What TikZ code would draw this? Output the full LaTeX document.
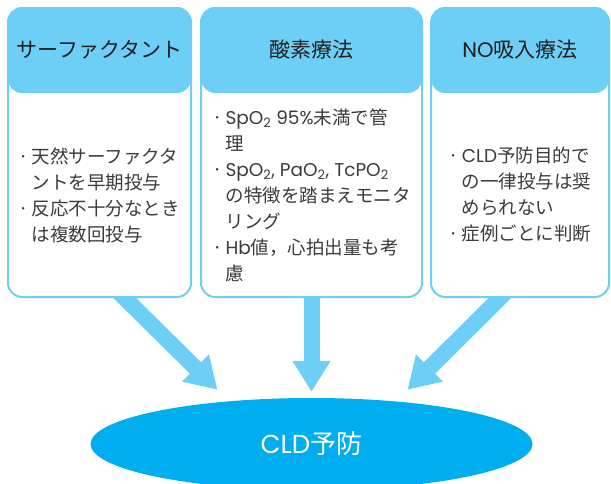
\documentclass[tikz,border=0pt]{standalone}
\usepackage{fontspec}
\setmainfont{Noto Sans CJK JP}
\newfontfamily\latinfont{Poppins}
\usetikzlibrary{arrows.meta, shapes.geometric, positioning, backgrounds}

\definecolor{sky}{HTML}{6DCFF6}
\definecolor{cyanblue}{HTML}{00AEEF}
\definecolor{ink}{HTML}{231F20}
\definecolor{bodyink}{HTML}{3E3A39}

% bullet, hanging indent and latin words for the panel texts
\newcommand{\itm}{\makebox[13pt][l]{·}}
\newcommand{\cont}{\hspace*{13pt}}
\newcommand{\lat}[1]{{\latinfont #1}}
\newcommand{\two}{\textsubscript{2}}

\tikzset{
  panel/.style={draw=sky, line width=2pt, fill=white, rounded corners=14pt,
    minimum height=289pt, inner sep=0pt,
    path picture={\fill[sky] (path picture bounding box.north west)
      rectangle ([yshift=-85pt]path picture bounding box.north east);}},
  title/.style={text=ink, font=\fontsize{21}{24}\selectfont},
  body/.style={text=bodyink, font=\fontsize{18.5}{26}\selectfont, align=left, inner sep=0pt},
  flow/.style={draw=sky, line width=16pt, -{Triangle[width=36pt, length=31pt]}},
  goal/.style={ellipse, fill=cyanblue, text=white, inner sep=0pt,
    minimum width=442pt, minimum height=92pt, font=\fontsize{26}{30}\selectfont}
}

\begin{document}
\begin{tikzpicture}[x=1pt, y=1pt]
  \useasboundingbox (0,0) rectangle (611,483);
  \clip (0,0) rectangle (611,483);

  % three treatment panels
  \node[panel, minimum width=183pt] (sf) at (99.5,330.5) {};
  \node[panel, minimum width=221pt] (ox) at (311.5,330.5) {};
  \node[panel, minimum width=178pt] (no) at (520,330.5) {};

  \node[title] (sf-t) at ([yshift=-42.5pt]sf.north) {サーファクタント};
  \node[title] (ox-t) at ([yshift=-42.5pt]ox.north) {酸素療法};
  \node[title] (no-t) at ([yshift=-42.5pt]no.north) {\lat{NO}吸入療法};

  \node[body] (sf-b) at ([yshift=-42.5pt]sf.center) {%
    \itm 天然サーファクタ\\
    \cont ントを早期投与\\
    \itm 反応不十分なとき\\
    \cont は複数回投与};
  \node[body] (ox-b) at ([yshift=-42.5pt]ox.center) {%
    \itm \lat{SpO\two{} 95\%}未満で管\\
    \cont 理\\
    \itm \lat{SpO\two, PaO\two, TcPO\two}\\
    \cont の特徴を踏まえモニタ\\
    \cont リング\\
    \itm \lat{Hb}値，心拍出量も考\\
    \cont 慮};
  \node[body] (no-b) at ([yshift=-42.5pt]no.center) {%
    \itm \lat{CLD}予防目的で\\
    \cont の一律投与は奨\\
    \cont められない\\
    \itm 症例ごとに判断};

  % goal
  \node[goal] (prev) at (311.5,39) {\lat{CLD}予防};

  \begin{scope}[on background layer]
    \draw[flow] ([xshift=5pt, yshift=20pt]sf.south) -- ([shift={(-94pt,8pt)}]prev.north);
    \draw[flow] ([yshift=20pt]ox.south) -- ([yshift=6pt]prev.north);
    \draw[flow] ([yshift=20pt]no.south) -- ([shift={(96pt,8pt)}]prev.north);
  \end{scope}
\end{tikzpicture}
\end{document}
